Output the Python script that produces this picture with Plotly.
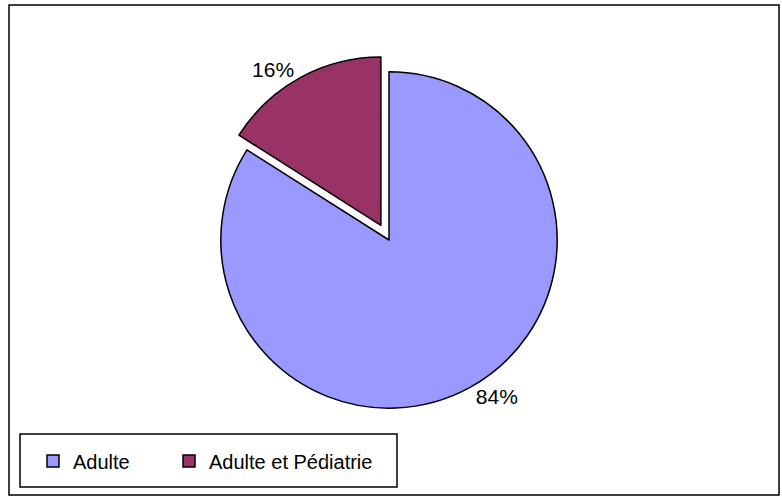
import plotly.graph_objects as go

labels = ["Adulte", "Adulte et Pédiatrie"]
values = [84, 16]
colors = ["#9999FF", "#993366"]
pulls = [0, 0.1]

W, H = 782, 497

def px(x):
    return x / W

def py(y):
    return 1 - y / H

fig = go.Figure()
fig.add_trace(go.Pie(
    labels=labels,
    values=values,
    sort=False,
    direction="clockwise",
    rotation=0,
    pull=pulls,
    marker=dict(colors=colors, line=dict(color="black", width=1.5)),
    textinfo="percent",
    texttemplate="%{percent:.0%}",
    textposition="outside",
    textfont=dict(family="Liberation Sans, Arial, sans-serif", size=21, color="black"),
    domain=dict(x=[px(204), px(574)], y=[py(425), py(55)]),
    hoverinfo="label+percent",
))
# invisible spacer entry so the last legend item is not clipped
fig.add_trace(go.Scatter(
    x=[None], y=[None], mode="markers", name=" ",
    marker=dict(opacity=0, color="white"), showlegend=True, hoverinfo="skip",
))

fig.update_layout(
    width=W, height=H,
    margin=dict(l=0, r=0, t=0, b=0),
    paper_bgcolor="white",
    plot_bgcolor="white",
    font=dict(family="Liberation Sans, Arial, sans-serif", size=20, color="black"),
    showlegend=True,
    xaxis=dict(visible=False),
    yaxis=dict(visible=False),
    legend=dict(
        orientation="h",
        x=px(33), xanchor="left",
        y=py(461), yanchor="middle",
        font=dict(size=20, color="black"),
        bgcolor="rgba(0,0,0,0)",
        borderwidth=0,
        entrywidth=91,
        itemclick=False, itemdoubleclick=False,
    ),
    shapes=[
        dict(type="rect", xref="paper", yref="paper",
             x0=px(9), x1=px(779), y0=py(495), y1=py(5),
             line=dict(color="black", width=1.5), fillcolor="rgba(0,0,0,0)"),
        dict(type="rect", xref="paper", yref="paper",
             x0=px(20), x1=px(397), y0=py(487), y1=py(434),
             line=dict(color="black", width=1.5), fillcolor="rgba(0,0,0,0)"),
    ],
)

fig.write_html("out.html", config={"displayModeBar": False},
               post_script="document.body.style.margin='0px';")
